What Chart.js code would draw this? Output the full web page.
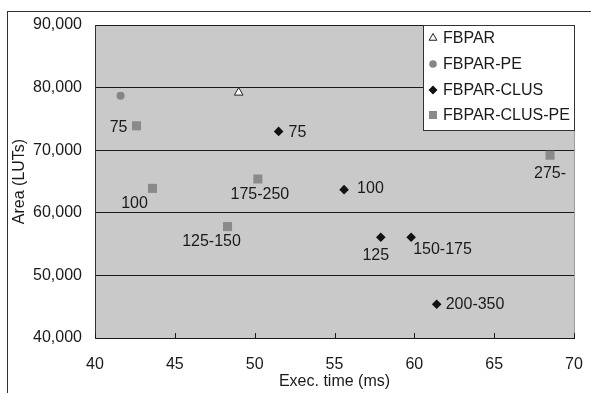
<!DOCTYPE html>
<html>
<head>
<meta charset="utf-8">
<script src="https://cdn.jsdelivr.net/npm/chart.js@4/dist/chart.umd.min.js"></script>
<style>
  html, body { margin: 0; padding: 0; background: #fff; }
  #wrap { width: 591px; height: 393px; }
</style>
</head>
<body>
<div id="wrap"><canvas id="myChart" width="591" height="393"></canvas></div>
<script>
// values
const timeTicks = [40, 45, 50, 55, 60, 65, 70];
const areaTicks = [40000, 50000, 60000, 70000, 80000, 90000];

const fbparTime = [49.0];
const fbparArea = [79200];

const fbparPeTime = [41.6];
const fbparPeArea = [78700];

const clusTime = [51.5, 55.6, 57.9, 59.8, 61.4];
const clusArea = [73000, 63700, 56100, 56100, 45400];
const clusLabels = ["75", "100", "125", "150-175", "200-350"];

const clusPeTime = [42.6, 43.6, 50.2, 48.3, 68.5];
const clusPeArea = [73900, 63900, 65400, 57800, 69200];
const clusPeLabels = ["75", "100", "175-250", "125-150", "275-"];

const toPoints = (xs, ys) => xs.map((x, i) => ({ x: x, y: ys[i] }));

const FONT = "'Liberation Sans', Arial, sans-serif";
const INK = "#1a1a1a";

// small marker shapes for the legend box
function marker(ctx, style, x, y, r, fill, stroke) {
	ctx.save();
	ctx.fillStyle = fill;
	ctx.strokeStyle = stroke;
	ctx.lineWidth = 1;
	ctx.beginPath();
	if (style === "triangle") {
		ctx.moveTo(x, y - r);
		ctx.lineTo(x + r * 0.87, y + r * 0.5);
		ctx.lineTo(x - r * 0.87, y + r * 0.5);
		ctx.closePath();
		ctx.fill();
		ctx.stroke();
	} else if (style === "circle") {
		ctx.arc(x, y, r, 0, Math.PI * 2);
		ctx.fill();
	} else if (style === "rectRot") {
		ctx.moveTo(x, y - r);
		ctx.lineTo(x + r, y);
		ctx.lineTo(x, y + r);
		ctx.lineTo(x - r, y);
		ctx.closePath();
		ctx.fill();
	} else {
		ctx.rect(x - r, y - r, r * 2, r * 2);
		ctx.fill();
	}
	ctx.restore();
}

const framePlugin = {
	id: "frame",
	beforeDraw(chart) {
		const { ctx, chartArea: a } = chart;
		ctx.save();
		ctx.fillStyle = "#fff";
		ctx.fillRect(0, 0, chart.width, chart.height);
		ctx.fillStyle = "#c9c9c9";
		ctx.fillRect(a.left, a.top, a.right - a.left, a.bottom - a.top);
		ctx.strokeStyle = "#333";
		ctx.lineWidth = 1;
		ctx.strokeRect(7.5, 11.5, 700, 500);
		ctx.restore();
	},
	afterDraw(chart) {
		const { ctx, chartArea: a } = chart;
		const xs = chart.scales.x;
		ctx.save();
		// light right edge of the plot
		ctx.strokeStyle = "#9a9a9a";
		ctx.beginPath();
		ctx.moveTo(a.right + 0.5, a.top);
		ctx.lineTo(a.right + 0.5, a.bottom);
		ctx.stroke();
		// inward tick marks on the time axis
		ctx.strokeStyle = INK;
		timeTicks.forEach((t) => {
			const px = Math.round(xs.getPixelForValue(t)) + 0.5;
			ctx.beginPath();
			ctx.moveTo(px, a.bottom);
			ctx.lineTo(px, a.bottom - 5);
			ctx.stroke();
		});

		// legend box
		const lx = 423, ly = 25, lw = 151, lh = 105;
		ctx.fillStyle = "#fff";
		ctx.fillRect(lx, ly, lw, lh);
		ctx.strokeStyle = "#333";
		ctx.strokeRect(lx + 0.5, ly + 0.5, lw, lh);
		const rowY = [38, 64, 90, 115];
		const legendR = { triangle: 4.5, circle: 3.8, rectRot: 4.5, rect: 4 };
		chart.data.datasets.forEach((ds, i) => {
			marker(ctx, ds.pointStyle, lx + 10, ly + rowY[i] - 25, legendR[ds.pointStyle],
				ds.pointBackgroundColor, ds.pointBorderColor);
			ctx.fillStyle = INK;
			ctx.font = "16px " + FONT;
			ctx.textAlign = "left";
			ctx.textBaseline = "middle";
			ctx.fillText(ds.label, lx + 20, ly + rowY[i] - 25 + 1);
		});
		ctx.restore();
	},
	afterDatasetsDraw(chart) {
		const ctx = chart.ctx;
		ctx.save();
		ctx.font = "16px " + FONT;
		ctx.fillStyle = INK;
		ctx.textBaseline = "middle";
		chart.data.datasets.forEach((ds, di) => {
			if (!ds.pointLabels) return;
			const meta = chart.getDatasetMeta(di);
			meta.data.forEach((pt, i) => {
				const [dx, dy, align] = ds.labelAt[i];
				ctx.textAlign = align;
				ctx.fillText(ds.pointLabels[i], pt.x + dx, pt.y + dy);
			});
		});
		ctx.restore();
	},
};

const ctx = document.getElementById("myChart");

const myChart = new Chart(ctx, {
	type: "scatter",
	data: {
		datasets: [
			{
				label: "FBPAR",
				data: toPoints(fbparTime, fbparArea),
				pointStyle: "triangle",
				pointRadius: 5,
				pointBackgroundColor: "#ffffff",
				pointBorderColor: "#222222",
				pointBorderWidth: 1,
			},
			{
				label: "FBPAR-PE",
				data: toPoints(fbparPeTime, fbparPeArea),
				pointStyle: "circle",
				pointRadius: 4,
				pointBackgroundColor: "#858585",
				pointBorderColor: "#858585",
				pointBorderWidth: 0,
			},
			{
				label: "FBPAR-CLUS",
				data: toPoints(clusTime, clusArea),
				pointStyle: "rectRot",
				pointRadius: 4.8,
				pointBackgroundColor: "#111111",
				pointBorderColor: "#111111",
				pointBorderWidth: 0,
				pointLabels: clusLabels,
				labelAt: [[10, 1, "left"], [13, -1, "left"], [-5, 18, "center"], [2, 12, "left"], [9, 0, "left"]],
			},
			{
				label: "FBPAR-CLUS-PE",
				data: toPoints(clusPeTime, clusPeArea),
				pointStyle: "rect",
				pointRadius: 6.4,
				pointBackgroundColor: "#8a8a8a",
				pointBorderColor: "#8a8a8a",
				pointBorderWidth: 0,
				pointLabels: clusPeLabels,
				labelAt: [[-9, 2, "right"], [-18, 15, "center"], [2, 16, "center"], [-16, 15, "center"], [0, 18, "center"]],
			},
		],
	},
	options: {
		responsive: false,
		animation: false,
		devicePixelRatio: 1,
		layout: { padding: { left: 0, right: 17, top: 25, bottom: 0 } },
		plugins: {
			legend: { display: false },
			tooltip: { enabled: false },
		},
		scales: {
			x: {
				type: "linear",
				min: timeTicks[0],
				max: timeTicks[timeTicks.length - 1],
				afterFit: (s) => { s.height = 55; s.paddingLeft = 0; s.paddingRight = 0; },
				afterBuildTicks: (s) => { s.ticks = timeTicks.map((v) => ({ value: v })); },
				grid: { display: false },
				border: { display: true, color: INK, width: 1 },
				ticks: { color: INK, padding: 9, font: { family: FONT, size: 16 } },
				title: {
					display: true,
					text: "Exec. time (ms)",
					color: INK,
					font: { family: FONT, size: 16 },
					padding: { top: 0, bottom: 2 },
				},
			},
			y: {
				type: "linear",
				min: areaTicks[0],
				max: areaTicks[areaTicks.length - 1],
				afterFit: (s) => { s.width = 95; s.paddingTop = 0; s.paddingBottom = 0; },
				afterBuildTicks: (s) => { s.ticks = areaTicks.map((v) => ({ value: v })); },
				grid: { color: INK, lineWidth: 1, drawTicks: false },
				border: { display: true, color: "#333", width: 1 },
				ticks: {
					color: INK,
					padding: 13,
					font: { family: FONT, size: 16 },
					callback: (v) => v.toLocaleString("en-US"),
				},
				title: {
					display: true,
					text: "Area (LUTs)",
					color: INK,
					font: { family: FONT, size: 16 },
					padding: { top: 10, bottom: 0 },
				},
			},
		},
	},
	plugins: [framePlugin],
});
</script>
</body>
</html>
